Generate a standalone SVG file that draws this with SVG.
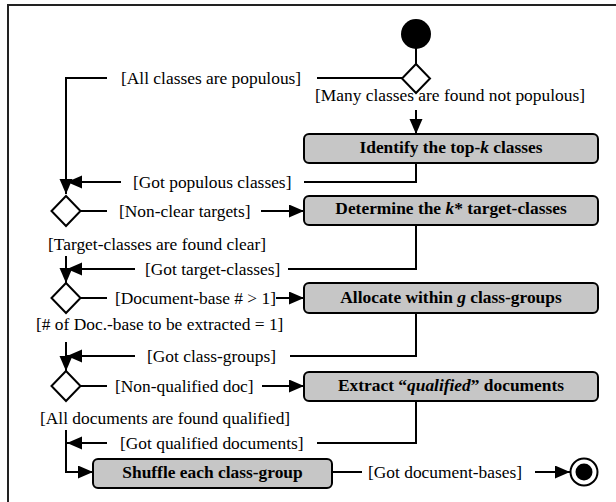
<svg xmlns="http://www.w3.org/2000/svg" width="616" height="502" viewBox="0 0 616 502">
<style>
.frame{fill:none;stroke:#222;stroke-width:2}
.ln{fill:none;stroke:#000;stroke-width:2}
.arr{fill:none;stroke:#000;stroke-width:2;marker-end:url(#ah)}
.box{fill:#c6c6c6;stroke:#000;stroke-width:2}
.dia{fill:#fff;stroke:#000;stroke-width:2}
text{font-family:'Liberation Serif','Times New Roman','DejaVu Serif',serif;font-size:17.4px;fill:#000}
.bt{font-weight:bold;text-anchor:middle}
</style>
<defs>
<marker id="ah" markerUnits="userSpaceOnUse" markerWidth="16" markerHeight="14" refX="15" refY="6.5" orient="auto">
<path d="M0,0 L15,6.5 L0,13 z" fill="#000"/>
</marker>
</defs>
<rect width="616" height="502" fill="#fff"/>
<path class="frame" d="M8,502 V5 H616"/>

<g id="connectors">
<line class="ln" x1="416" y1="48" x2="416" y2="64"/>
<path class="ln" d="M402,78 H317"/>
<path class="arr" d="M107,78 H66 V194"/>
<path class="arr" d="M416,110 V134"/>
<path class="ln" d="M416,163 V182 H304"/>
<path class="arr" d="M121,182 H67"/>
<path class="ln" d="M80,211 H107"/>
<path class="arr" d="M261,211 H304"/>
<path class="arr" d="M66,256 V283"/>
<path class="ln" d="M416,225 V269 H288"/>
<path class="arr" d="M135,269 H67"/>
<path class="ln" d="M80,298 H107"/>
<path class="arr" d="M276,298 H304"/>
<path class="arr" d="M66,342 V371"/>
<path class="ln" d="M416,313 V356 H290"/>
<path class="arr" d="M135,356 H67"/>
<path class="ln" d="M80,386 H107"/>
<path class="arr" d="M262,386 H304"/>
<path class="arr" d="M66,430 V472 H93"/>
<path class="ln" d="M416,401 V443 H317"/>
<path class="arr" d="M107,443 H67"/>
<path class="ln" d="M332,472 H362"/>
<path class="arr" d="M535,472 H570"/>
</g>

<g id="labels" font-family="Liberation Serif, serif">
<text x="121" y="84">[All classes are populous]</text>
<text x="315" y="101">[Many classes are found not populous]</text>
<text x="133" y="188">[Got populous classes]</text>
<text x="119" y="217">[Non-clear targets]</text>
<text x="48" y="250">[Target-classes are found clear]</text>
<text x="145" y="275">[Got target-classes]</text>
<text x="115" y="304">[Document-base # &gt; 1]</text>
<text x="36" y="330">[# of Doc.-base to be extracted = 1]</text>
<text x="147" y="362">[Got class-groups]</text>
<text x="115" y="392">[Non-qualified doc]</text>
<text x="40" y="424">[All documents are found qualified]</text>
<text x="120" y="449">[Got qualified documents]</text>
<text x="368" y="478">[Got document-bases]</text>
</g>

<g id="start"><circle cx="416" cy="34" r="15" fill="#000"/></g>
<g id="decision0"><polygon class="dia" points="416,64 430,78.5 416,93 402,78.5"/></g>
<g id="decision1"><polygon class="dia" points="66,196 80.5,211 66,226 51.5,211"/></g>
<g id="decision2"><polygon class="dia" points="66,283 80.5,298 66,313 51.5,298"/></g>
<g id="decision3"><polygon class="dia" points="66,371 80.5,386 66,401 51.5,386"/></g>

<g id="identify">
<rect class="box" x="304" y="134" width="294" height="29" rx="5"/>
<text class="bt" x="451" y="152.5">Identify the top-<tspan font-style="italic">k</tspan> classes</text>
</g>
<g id="determine">
<rect class="box" x="304" y="196" width="294" height="29" rx="5"/>
<text class="bt" x="451" y="214">Determine the <tspan font-style="italic">k</tspan>* target-classes</text>
</g>
<g id="allocate">
<rect class="box" x="304" y="283" width="294" height="30" rx="5"/>
<text class="bt" x="451" y="302.5">Allocate within <tspan font-style="italic">g</tspan> class-groups</text>
</g>
<g id="extract">
<rect class="box" x="304" y="372" width="294" height="29" rx="5"/>
<text class="bt" x="451" y="390.5">Extract “<tspan font-style="italic">qualified</tspan>” documents</text>
</g>
<g id="shuffle">
<rect class="box" x="93" y="459" width="239" height="29" rx="5"/>
<text class="bt" x="212.5" y="477.5">Shuffle each class-group</text>
</g>
<g id="end">
<circle cx="584" cy="472" r="13.5" fill="#fff" stroke="#000" stroke-width="2"/>
<circle cx="584" cy="472" r="8.5" fill="#000"/>
</g>
</svg>
